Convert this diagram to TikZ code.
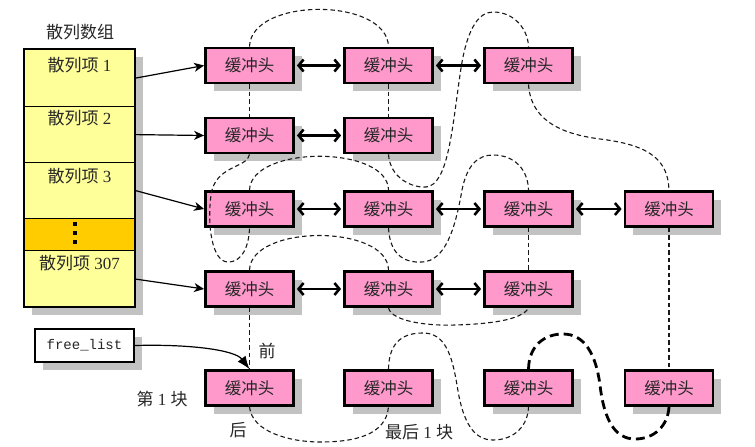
\documentclass[tikz,border=0pt]{standalone}
\usepackage{fontspec}
\setmainfont{Liberation Serif}
\setmonofont{Liberation Mono}
\newfontfamily\cjk{Noto Sans CJK SC}
\usetikzlibrary{arrows.meta,shadows,patterns}
\definecolor{pinkbox}{HTML}{FF99CC}
\definecolor{yellowcell}{HTML}{FFFF99}
\definecolor{orangecell}{HTML}{FFCC00}
\definecolor{shadowgray}{HTML}{C2C2C2}
\newcommand\zh[1]{{\cjk #1}}
\begin{document}
\begin{tikzpicture}[x=1pt,y=-1pt,
  shadowed/.style={drop shadow={shadow xshift=8pt,shadow yshift=-8pt,fill=shadowgray,opacity=1}},
  buf/.style={draw=black, line width=2.8pt, fill=pinkbox, minimum width=88pt, minimum height=35pt,
    inner sep=0pt, shadowed, font=\fontsize{16.5}{17}\selectfont\cjk, text=black!85},
  cell/.style={draw=black, line width=1.2pt, minimum width=111pt, inner sep=0pt, anchor=north},
  celltext/.style={font=\fontsize{17}{18}\selectfont, text=black!85},
  lbl/.style={font=\fontsize{17}{18}\selectfont, text=black!85},
  ptr/.style={line width=1.2pt, -{Stealth[length=10pt,width=9pt,inset=3pt]}},
  dbl/.style={line width=2.6pt, {Straight Barb[length=5pt,width=12pt]}-{Straight Barb[length=5pt,width=12pt]},
    shorten <=2pt, shorten >=2pt},
  link/.style={line width=1.1pt, dash pattern=on 4.5pt off 3pt, black!90},
  thicklink/.style={line width=2.8pt, dash pattern=on 9pt off 5pt},
]
\useasboundingbox (0,0) rectangle (755,447);

% ---- hash table ----
\node[lbl] (title) at (80,32) {\zh{散列数组}};
\fill[shadowgray] (32,57) rectangle (143,315);
\node[cell, fill=yellowcell, minimum height=57pt] (c1) at (79.5,49) {};
\node[cell, fill=yellowcell, minimum height=56pt] (c2) at (79.5,106) {};
\node[cell, fill=yellowcell, minimum height=56pt] (c3) at (79.5,162) {};
\node[cell, fill=orangecell, minimum height=32pt] (c4) at (79.5,218) {};
\node[cell, fill=yellowcell, minimum height=57pt] (c5) at (79.5,250) {};
\draw[line width=2.4pt] (24,49) rectangle (135,307);
\node[celltext] (t1) at (79.5,65) {\zh{散列项} 1};
\node[celltext] (t2) at (79.5,118) {\zh{散列项} 2};
\node[celltext] (t3) at (79.5,176) {\zh{散列项} 3};
\node[celltext] (t5) at (79.5,263) {\zh{散列项} 307};
\fill (73,222) rectangle ++(4,4);
\fill (73,230.5) rectangle ++(4,4);
\fill (73,239.5) rectangle ++(4,4);

% ---- free list ----
\node[draw=black, line width=2.4pt, fill=white, minimum width=99pt, minimum height=33pt, inner sep=0pt,
  shadowed, font=\ttfamily\fontsize{14}{15}\selectfont, text=black!85] (fl) at (84.5,345.5) {free\_list};

% ---- buffer heads ----
\node[buf] (b11) at (249.5,65.5) {缓冲头};
\node[buf] (b12) at (388.5,65.5) {缓冲头};
\node[buf] (b13) at (528.5,65.5) {缓冲头};
\node[buf] (b21) at (249.5,135.5) {缓冲头};
\node[buf] (b22) at (388.5,135.5) {缓冲头};
\node[buf] (b31) at (249.5,209) {缓冲头};
\node[buf] (b32) at (388.5,209) {缓冲头};
\node[buf] (b33) at (528.5,209) {缓冲头};
\node[buf] (b34) at (669,209) {缓冲头};
\node[buf] (b41) at (249.5,289) {缓冲头};
\node[buf] (b42) at (388.5,289) {缓冲头};
\node[buf] (b43) at (528.5,289) {缓冲头};
\node[buf] (b51) at (249.5,388) {缓冲头};
\node[buf] (b52) at (388.5,388) {缓冲头};
\node[buf] (b53) at (528.5,388) {缓冲头};
\node[buf] (b54) at (669,388) {缓冲头};

% ---- labels ----
\node[lbl] (qian) at (267,351) {\zh{前}};
\node[lbl] (hou) at (238,430) {\zh{后}};
\node[lbl] (first) at (162,399) {\zh{第} 1 \zh{块}};
\node[lbl] (last) at (419,432) {\zh{最后} 1 \zh{块}};

% ---- pointers from table ----
\draw[ptr] (c1.east) -- (b11.west);
\draw[ptr] (c2.east) -- (b21.west);
\draw[ptr] (c3.east) -- (b31.west);
\draw[ptr] (c5.east) -- (b41.west);
\draw[line width=1.2pt, -{Latex[length=13pt,width=10pt]}] (fl.east) .. controls (190,344) and (235,350) .. (b51.north);

% ---- hash chains ----
\draw[dbl] (b11.east) -- (b12.west);
\draw[dbl] (b12.east) -- (b13.west);
\draw[dbl] (b21.east) -- (b22.west);
\draw[dbl] (b31.east) -- (b32.west);
\draw[dbl] (b32.east) -- (b33.west);
\draw[dbl] (b33.east) -- (b34.west);
\draw[dbl] (b41.east) -- (b42.west);
\draw[dbl] (b42.east) -- (b43.west);

% ---- free list links ----
\draw[link] (b11.north) .. controls (251,-3) and (387,-3) .. (b12.north);
\draw[link] (b11.south) -- (b21.north);
\draw[link] (b12.south) -- (b22.north);
\draw[link] (b22.south) .. controls (390,178) and (412,188) .. (426,187)
  .. controls (448,185) and (452,130) .. (460,75)
  .. controls (466,30) and (478,12) .. (493,12)
  .. controls (515,12) and (528,30) .. (b13.north);
\draw[link] (b13.south) .. controls (531,125) and (570,135) .. (600,139)
  .. controls (650,145) and (668,160) .. (b34.north);
\draw[link] (b34.south) -- (b54.north);
\draw[link] (b21.south) .. controls (248,168) and (215,165) .. (211,195)
  .. controls (207,225) and (212,262) .. (228,262)
  .. controls (243,262) and (249,245) .. (b31.south);
\draw[link] (b31.north) .. controls (251,145) and (388,145) .. (b32.north);
\draw[link] (b32.south) .. controls (390,258) and (408,263) .. (422,262)
  .. controls (445,261) and (455,230) .. (462,190)
  .. controls (467,165) and (478,155) .. (493,155)
  .. controls (515,155) and (528,170) .. (b33.north);
\draw[link] (b33.south) -- (b43.north);
\draw[link] (b41.north) .. controls (251,224) and (388,224) .. (b42.north);
\draw[link] (b41.south) -- (b51.north);
\draw[link] (b42.south) .. controls (392,322) and (430,326) .. (455,325)
  .. controls (490,324) and (522,320) .. (b43.south);
\draw[link] (b51.south) .. controls (252,432) and (290,442) .. (320,442)
  .. controls (355,442) and (386,435) .. (b52.south);
\draw[link] (b52.north) .. controls (389,340) and (405,333) .. (423,333)
  .. controls (445,333) and (452,355) .. (457,385)
  .. controls (463,425) and (475,440) .. (493,440)
  .. controls (515,440) and (528,425) .. (b53.south);
\draw[thicklink] (b53.north) .. controls (529,345) and (545,334) .. (563,334)
  .. controls (585,334) and (596,355) .. (600,385)
  .. controls (604,420) and (615,439) .. (635,439)
  .. controls (655,439) and (668,425) .. (b54.south);
\end{tikzpicture}
\end{document}
